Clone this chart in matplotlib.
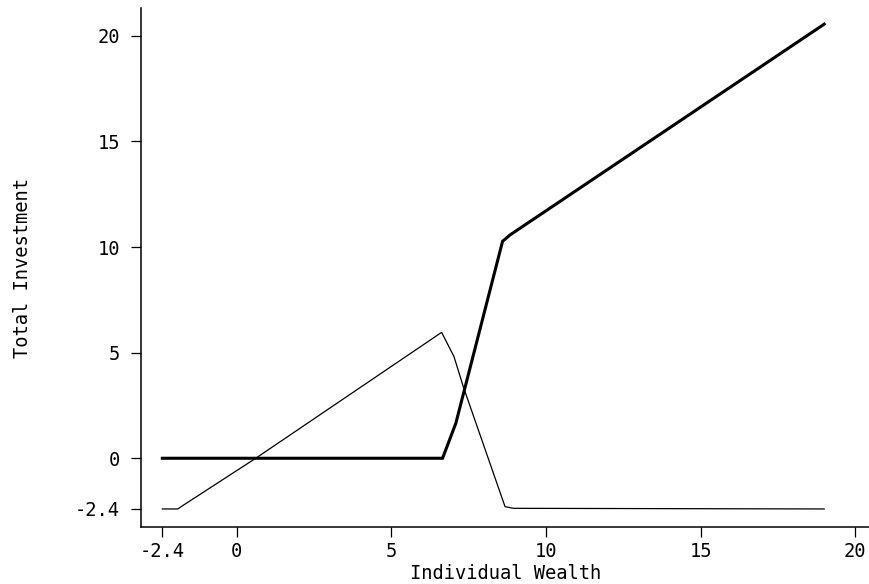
#!/usr/bin/env python3
"""Total investment versus individual wealth (two schedules)."""

import matplotlib
matplotlib.use("Agg")
import matplotlib.pyplot as plt

# thin line
wealth_thin = [-2.4, -1.9, -1.75, 0.62, 6.63, 7.03, 7.33, 8.68, 8.95, 19.0]
invest_thin = [-2.4, -2.4, -2.25, 0.0, 5.96, 4.81, 3.39, -2.29, -2.37, -2.4]

# thick line
wealth_thick = [-2.4, 6.66, 7.09, 8.6, 8.84, 19.0]
invest_thick = [0.0, 0.0, 1.66, 10.27, 10.57, 20.55]

xticks = [-2.4, 0, 5, 10, 15, 20]
xtick_labels = ["-2.4", "0", "5", "10", "15", "20"]
yticks = [-2.4, 0, 5, 10, 15, 20]
ytick_labels = ["-2.4", "0", "5", "10", "15", "20"]

plt.rcParams["font.family"] = ["DejaVu Sans Mono"]

fig = plt.figure(figsize=(8.7, 5.84), dpi=100)
ax = fig.add_axes([141 / 870, (584 - 526.7) / 584, 1 - 141 / 870, (526.7 - 8.3) / 584])

ax.plot(wealth_thin, invest_thin, color="black", lw=0.9, solid_joinstyle="miter")
ax.plot(wealth_thick, invest_thick, color="black", lw=2.2, solid_joinstyle="miter")

ax.set_xlim(-3.09, 20.48)
ax.set_ylim(-3.24, 21.3)

for side in ("top", "right"):
    ax.spines[side].set_visible(False)
for side in ("left", "bottom"):
    ax.spines[side].set_linewidth(1.1)

ax.set_xticks(xticks)
ax.set_xticklabels(xtick_labels)
ax.set_yticks(yticks)
ax.set_yticklabels(ytick_labels)
ax.tick_params(direction="out", length=7, width=0.9, labelsize=13.5)
ax.tick_params(axis="y", pad=8)
ax.tick_params(axis="x", pad=4)

ax.set_xlabel("Individual Wealth", fontsize=13.5, labelpad=2.5)
ax.set_ylabel("Total Investment", fontsize=13.5)
ax.yaxis.set_label_coords(-0.15, 0.5)

fig.savefig("out.png", dpi=100)
